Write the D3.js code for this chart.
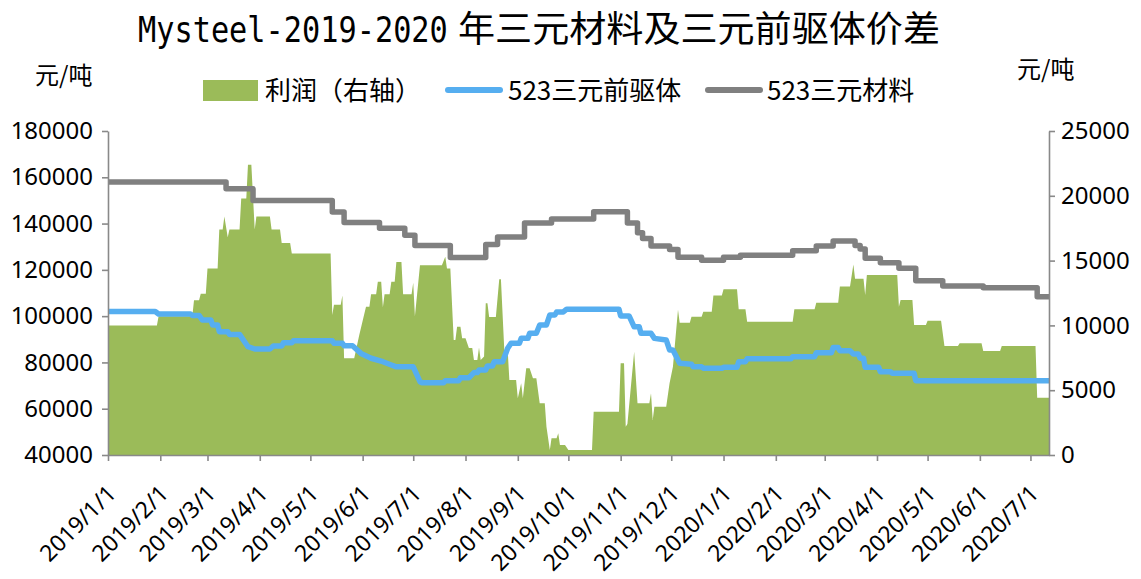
<!DOCTYPE html>
<html>
<head>
<meta charset="utf-8">
<script src="https://cdn.jsdelivr.net/npm/d3@7"></script>
<style>
  body { margin: 0; background: #fff; }
  svg { display: block; }
</style>
</head>
<body>
<svg id="chart" width="1141" height="579"></svg>
<script>
// 523 ternary cathode material price (yuan/ton), value from each date onward
const materialPrice = [
  ["2019-01-01", 158000], ["2019-03-12", 155000], ["2019-03-28", 150000],
  ["2019-05-14", 145000], ["2019-05-21", 140500], ["2019-06-11", 138000],
  ["2019-06-26", 135000], ["2019-07-02", 130500], ["2019-07-23", 125300],
  ["2019-08-13", 131000], ["2019-08-20", 134200], ["2019-09-05", 140200],
  ["2019-09-21", 142000], ["2019-10-16", 145100], ["2019-11-05", 140300],
  ["2019-11-11", 136000], ["2019-11-14", 133500], ["2019-11-19", 130300],
  ["2019-11-30", 128800], ["2019-12-05", 125400], ["2019-12-19", 124200],
  ["2020-01-01", 125400], ["2020-01-11", 126300], ["2020-02-11", 128300],
  ["2020-02-25", 130300], ["2020-03-06", 132500], ["2020-03-19", 130500],
  ["2020-03-22", 129000], ["2020-03-25", 125000], ["2020-04-03", 123100],
  ["2020-04-14", 120700], ["2020-04-24", 115300], ["2020-05-10", 113000],
  ["2020-06-03", 112300], ["2020-07-05", 108400], ["2020-07-12", 108400]
];

// 523 ternary precursor price (yuan/ton)
const precursorPrice = [
  ["2019-01-01", 102000], ["2019-01-29", 102000], ["2019-01-31", 100900],
  ["2019-02-19", 100900], ["2019-02-20", 100300], ["2019-02-24", 100300],
  ["2019-02-26", 98300], ["2019-03-03", 98300], ["2019-03-04", 96200],
  ["2019-03-07", 96200], ["2019-03-08", 93300], ["2019-03-13", 93300],
  ["2019-03-14", 92100], ["2019-03-20", 92100], ["2019-03-25", 86800],
  ["2019-03-29", 85800], ["2019-04-07", 85800], ["2019-04-09", 87100],
  ["2019-04-14", 87100], ["2019-04-15", 88500], ["2019-04-20", 88500],
  ["2019-04-21", 89400], ["2019-05-14", 89400], ["2019-05-15", 88300],
  ["2019-05-20", 88300], ["2019-05-21", 87200], ["2019-05-26", 87200],
  ["2019-05-31", 83900], ["2019-06-06", 81800], ["2019-06-13", 80300],
  ["2019-06-18", 78900], ["2019-06-21", 78100], ["2019-07-01", 78100],
  ["2019-07-05", 71700], ["2019-07-06", 71200], ["2019-07-19", 71200],
  ["2019-07-20", 72100], ["2019-07-28", 72100], ["2019-07-29", 73400],
  ["2019-08-03", 73400], ["2019-08-06", 75600], ["2019-08-08", 75600],
  ["2019-08-09", 76700], ["2019-08-13", 76700], ["2019-08-14", 78500],
  ["2019-08-17", 78500], ["2019-08-18", 80300], ["2019-08-23", 80300],
  ["2019-08-26", 86100], ["2019-08-28", 88300], ["2019-09-02", 88300],
  ["2019-09-03", 90400], ["2019-09-07", 90400], ["2019-09-08", 92600],
  ["2019-09-12", 92600], ["2019-09-14", 96200], ["2019-09-18", 96200],
  ["2019-09-20", 100500], ["2019-09-23", 100500], ["2019-09-24", 101800],
  ["2019-09-28", 101800], ["2019-09-30", 103000], ["2019-10-31", 103000],
  ["2019-11-01", 100100], ["2019-11-06", 100100], ["2019-11-09", 95400],
  ["2019-11-12", 95400], ["2019-11-13", 92600], ["2019-11-19", 92600],
  ["2019-11-21", 90400], ["2019-11-28", 89700], ["2019-11-30", 85400],
  ["2019-12-02", 85400], ["2019-12-06", 79600], ["2019-12-13", 79200],
  ["2019-12-14", 78100], ["2019-12-19", 78100], ["2019-12-20", 77500],
  ["2019-12-31", 77500], ["2020-01-01", 77900], ["2020-01-09", 77900],
  ["2020-01-10", 80300], ["2020-01-14", 80300], ["2020-01-15", 81600],
  ["2020-02-10", 81600], ["2020-02-11", 82500], ["2020-02-24", 82500],
  ["2020-02-25", 84200], ["2020-03-05", 84200], ["2020-03-06", 86400],
  ["2020-03-09", 86400], ["2020-03-10", 85100], ["2020-03-16", 85100],
  ["2020-03-18", 83600], ["2020-03-21", 83600], ["2020-03-22", 81800],
  ["2020-03-24", 81800], ["2020-03-25", 77900], ["2020-04-02", 77900],
  ["2020-04-03", 76000], ["2020-04-09", 76000], ["2020-04-10", 75300],
  ["2020-04-23", 75300], ["2020-04-24", 72100], ["2020-07-12", 72100]
];

// Profit (yuan/ton, right axis)
const profit = [
  ["2019-01-01", 10000], ["2019-01-30", 10000], ["2019-01-31", 10700],
  ["2019-02-20", 10700], ["2019-02-21", 11950], ["2019-02-24", 11950],
  ["2019-02-25", 12450], ["2019-02-28", 12450], ["2019-03-01", 14400],
  ["2019-03-07", 14400], ["2019-03-08", 17400], ["2019-03-10", 17400],
  ["2019-03-11", 18400], ["2019-03-13", 16800], ["2019-03-14", 17400],
  ["2019-03-20", 17400], ["2019-03-21", 19800], ["2019-03-24", 19800],
  ["2019-03-25", 22400], ["2019-03-27", 22400], ["2019-03-29", 17400],
  ["2019-03-30", 18400], ["2019-04-07", 18400], ["2019-04-08", 17400],
  ["2019-04-13", 17400], ["2019-04-14", 16350], ["2019-04-19", 16350],
  ["2019-04-20", 15550], ["2019-05-13", 15550], ["2019-05-14", 10800],
  ["2019-05-15", 11600], ["2019-05-19", 11600], ["2019-05-20", 12300],
  ["2019-05-21", 7460], ["2019-05-27", 7460], ["2019-05-30", 9260],
  ["2019-06-02", 10900], ["2019-06-03", 11440], ["2019-06-05", 11440],
  ["2019-06-06", 12400], ["2019-06-09", 12400], ["2019-06-10", 13370],
  ["2019-06-12", 13370], ["2019-06-13", 11400], ["2019-06-14", 12400],
  ["2019-06-17", 12400], ["2019-06-18", 13370], ["2019-06-20", 13370],
  ["2019-06-21", 14900], ["2019-06-24", 14900], ["2019-06-25", 12400],
  ["2019-06-30", 12400], ["2019-07-01", 13300], ["2019-07-02", 10700],
  ["2019-07-05", 14650], ["2019-07-18", 14650], ["2019-07-20", 15300],
  ["2019-07-21", 14400], ["2019-07-23", 14400], ["2019-07-25", 8870],
  ["2019-07-26", 8870], ["2019-07-27", 9900], ["2019-07-29", 9900],
  ["2019-07-30", 9000], ["2019-08-01", 9000], ["2019-08-03", 8250],
  ["2019-08-05", 8250], ["2019-08-06", 7330], ["2019-08-08", 7330],
  ["2019-08-09", 8300], ["2019-08-10", 7330], ["2019-08-12", 7600],
  ["2019-08-13", 11700], ["2019-08-14", 11700], ["2019-08-15", 10650],
  ["2019-08-19", 10650], ["2019-08-21", 13560], ["2019-08-22", 13560],
  ["2019-08-24", 8100], ["2019-08-26", 8100], ["2019-08-27", 5790],
  ["2019-08-31", 5790], ["2019-09-01", 4375], ["2019-09-03", 5530],
  ["2019-09-04", 4375], ["2019-09-06", 6690], ["2019-09-08", 6690],
  ["2019-09-10", 5920], ["2019-09-12", 5920], ["2019-09-14", 3990],
  ["2019-09-17", 3990], ["2019-09-18", 2180], ["2019-09-20", 390],
  ["2019-09-21", 1290], ["2019-09-24", 1290], ["2019-09-25", 1670],
  ["2019-09-26", 770], ["2019-09-29", 770], ["2019-10-01", 390],
  ["2019-10-15", 390], ["2019-10-16", 3340], ["2019-10-31", 3340],
  ["2019-11-01", 7070], ["2019-11-03", 7070], ["2019-11-04", 2180],
  ["2019-11-05", 2400], ["2019-11-09", 7970], ["2019-11-11", 3990],
  ["2019-11-18", 3990], ["2019-11-19", 4760], ["2019-11-20", 2700],
  ["2019-11-21", 3730], ["2019-11-28", 3730], ["2019-11-30", 5530],
  ["2019-12-02", 6810], ["2019-12-05", 11200], ["2019-12-06", 10200],
  ["2019-12-12", 10200], ["2019-12-13", 10670], ["2019-12-19", 10670],
  ["2019-12-20", 11060], ["2019-12-25", 11060], ["2019-12-26", 12300],
  ["2019-12-31", 12300], ["2020-01-01", 12790], ["2020-01-09", 12790],
  ["2020-01-10", 11240], ["2020-01-14", 11240], ["2020-01-15", 10290],
  ["2020-02-11", 10290], ["2020-02-12", 11240], ["2020-02-24", 11240],
  ["2020-02-25", 11750], ["2020-03-09", 11750], ["2020-03-10", 13000],
  ["2020-03-16", 13000], ["2020-03-18", 14700], ["2020-03-19", 13600],
  ["2020-03-24", 13600], ["2020-03-25", 12350], ["2020-03-26", 13890],
  ["2020-04-13", 13890], ["2020-04-14", 11440], ["2020-04-15", 11960],
  ["2020-04-22", 11960], ["2020-04-23", 10030], ["2020-04-30", 10030],
  ["2020-05-01", 10360], ["2020-05-09", 10360], ["2020-05-11", 8410],
  ["2020-05-19", 8410], ["2020-05-20", 8620], ["2020-06-02", 8620],
  ["2020-06-03", 8020], ["2020-06-13", 8020], ["2020-06-14", 8410],
  ["2020-07-04", 8410], ["2020-07-05", 4420], ["2020-07-12", 4420]
];

const leftTicks = [40000, 60000, 80000, 100000, 120000, 140000, 160000, 180000];
const rightTicks = [0, 5000, 10000, 15000, 20000, 25000];
const monthTicks = [
  "2019-01-01", "2019-02-01", "2019-03-01", "2019-04-01", "2019-05-01", "2019-06-01",
  "2019-07-01", "2019-08-01", "2019-09-01", "2019-10-01", "2019-11-01", "2019-12-01",
  "2020-01-01", "2020-02-01", "2020-03-01", "2020-04-01", "2020-05-01", "2020-06-01",
  "2020-07-01"
];
const dateRange = ["2019-01-01", "2020-07-12"];

const titleLatin = "Mysteel-2019-2020";
const titleCjk = "年三元材料及三元前驱体价差";
const unitLabel = "元/吨";
const seriesNames = ["利润（右轴）", "523三元前驱体", "523三元材料"];

const COLORS = { profit: "#9BBB59", precursor: "#56AEF0", material: "#808080", axis: "#898989" };
const NUM_FONT = '"Noto Sans", "Noto Sans CJK SC", sans-serif';
const CJK_FONT = '"Noto Sans CJK SC", "Noto Sans", sans-serif';

const parse = d3.timeParse("%Y-%m-%d");
const toPoints = arr => arr.map(([d, v]) => ({ date: parse(d), v }));

const svg = d3.select("#chart");
const plot = { left: 108, right: 1049, top: 131, bottom: 455 };

const x = d3.scaleTime().domain(dateRange.map(parse)).range([plot.left, plot.right]);
const yL = d3.scaleLinear().domain([40000, 180000]).range([plot.bottom, plot.top]);
const yR = d3.scaleLinear().domain([0, 25000]).range([plot.bottom, plot.top]);

// profit area on the right axis
svg.append("path")
  .datum(toPoints(profit))
  .attr("fill", COLORS.profit)
  .attr("d", d3.area().x(d => x(d.date)).y0(yR(0)).y1(d => yR(d.v)));

// price lines on the left axis
svg.append("path")
  .datum(toPoints(precursorPrice))
  .attr("fill", "none")
  .attr("stroke", COLORS.precursor)
  .attr("stroke-width", 5.5)
  .attr("stroke-linejoin", "round")
  .attr("d", d3.line().x(d => x(d.date)).y(d => yL(d.v)));

svg.append("path")
  .datum(toPoints(materialPrice))
  .attr("fill", "none")
  .attr("stroke", COLORS.material)
  .attr("stroke-width", 5.5)
  .attr("stroke-linejoin", "round")
  .attr("d", d3.line().curve(d3.curveStepAfter).x(d => x(d.date)).y(d => yL(d.v)));

// axes
function styleAxis(g) {
  g.attr("font-size", null).attr("font-family", null);
  g.selectAll("path.domain").attr("stroke", COLORS.axis).attr("stroke-width", 1.6);
  g.selectAll(".tick line").attr("stroke", COLORS.axis).attr("stroke-width", 1.6);
  g.selectAll(".tick text").attr("fill", "#000").style("font-family", NUM_FONT);
}

const gx = svg.append("g")
  .attr("transform", `translate(0,${plot.bottom})`)
  .call(d3.axisBottom(x).tickValues(monthTicks.map(parse))
    .tickFormat(d3.timeFormat("%Y/%-m/%-d")).tickSize(6).tickSizeOuter(0))
  .call(styleAxis);
gx.selectAll(".tick text")
  .style("font-size", "23px")
  .attr("x", 0).attr("y", 0).attr("dy", 0)
  .attr("text-anchor", "end")
  .attr("transform", "translate(9,40) rotate(-45)");

const gl = svg.append("g")
  .attr("transform", `translate(${plot.left},0)`)
  .call(d3.axisLeft(yL).tickValues(leftTicks).tickFormat(d3.format("d"))
    .tickSize(6).tickPadding(9).tickSizeOuter(0))
  .call(styleAxis);
gl.selectAll(".tick text").style("font-size", "24px");

const gr = svg.append("g")
  .attr("transform", `translate(${plot.right},0)`)
  .call(d3.axisRight(yR).tickValues(rightTicks).tickFormat(d3.format("d"))
    .tickSize(6).tickPadding(6).tickSizeOuter(0))
  .call(styleAxis);
gr.selectAll(".tick text").style("font-size", "24px");

// plain text helper
function addText(xp, yp, size, family, str) {
  return svg.append("text").attr("x", xp).attr("y", yp)
    .style("font-family", family).style("font-size", size + "px").attr("fill", "#000").text(str);
}

// unit labels
addText(35, 84, 24, CJK_FONT, unitLabel);
addText(1017, 78, 24, CJK_FONT, unitLabel);

// title: narrow monospaced Latin part followed by the Chinese part
svg.append("text")
  .attr("transform", "translate(138,42) scale(0.865,1)")
  .style("font-family", '"DejaVu Sans Mono", monospace')
  .style("font-size", "35px").attr("fill", "#000")
  .text(titleLatin);
addText(458, 42, 36, CJK_FONT, titleCjk)
  .attr("textLength", 482).attr("lengthAdjust", "spacingAndGlyphs");

// legend
svg.append("rect").attr("x", 203).attr("y", 80).attr("width", 55).attr("height", 21)
  .attr("fill", COLORS.profit);
addText(265, 100, 26, CJK_FONT, seriesNames[0]);
svg.append("line").attr("x1", 448).attr("x2", 500).attr("y1", 90).attr("y2", 90)
  .attr("stroke", COLORS.precursor).attr("stroke-width", 6).attr("stroke-linecap", "round");
addText(508, 100, 26, CJK_FONT, seriesNames[1]);
svg.append("line").attr("x1", 708).attr("x2", 760).attr("y1", 90).attr("y2", 90)
  .attr("stroke", COLORS.material).attr("stroke-width", 6).attr("stroke-linecap", "round");
addText(767, 100, 26, CJK_FONT, seriesNames[2]);
</script>
</body>
</html>
